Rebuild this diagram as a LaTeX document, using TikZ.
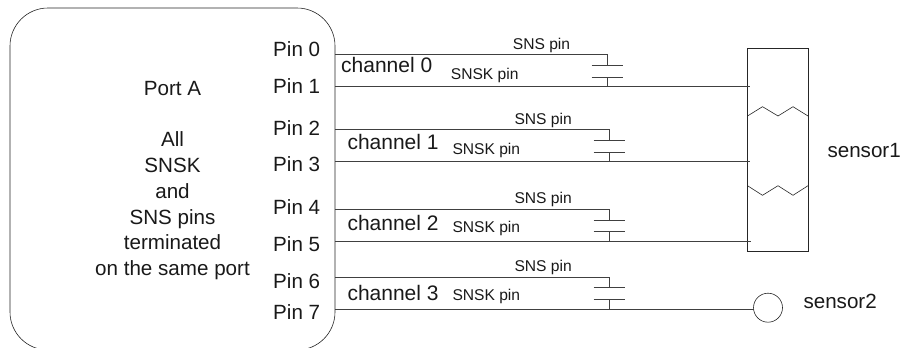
\documentclass[tikz,border=0pt]{standalone}
\usepackage{fontspec}
\setmainfont{Liberation Sans}
\tikzset{
  x=1pt,y=-1pt,
  wire/.style={draw=black!75,line width=1pt},
  fine/.style={draw=black!85,line width=0.6pt},
  txt/.style={inner sep=0pt,anchor=base west,text=black!90},
  big/.style={txt,font=\fontsize{20.6}{25.7}\selectfont},
  small/.style={txt,font=\fontsize{15.6}{18}\selectfont},
  chan/.style={txt,font=\fontsize{21}{25}\selectfont},
}
\begin{document}
\begin{tikzpicture}
\path[use as bounding box] (0,0) rectangle (903,348);
\begin{scope}
\clip (0,0) rectangle (903,348);
\node[fine,rounded corners=38pt,minimum width=325pt,minimum height=342pt,inner sep=0pt] (port) at (172.5,179) {};
\end{scope}
\node[inner sep=0pt,anchor=north,align=center,text=black!90,font=\fontsize{20.6}{25.7}\selectfont] (desc) at (172.5,81.2) {Port A\\ \\All\\SNSK\\and\\SNS pins\\terminated\\on the same port};
% pin labels
\node[big] (pin0) at (273,56.7) {Pin 0};
\node[big] (pin1) at (273,93.3) {Pin 1};
\node[big] (pin2) at (273,135) {Pin 2};
\node[big] (pin3) at (273,171.7) {Pin 3};
\node[big] (pin4) at (273,214) {Pin 4};
\node[big] (pin5) at (273,251.3) {Pin 5};
\node[big] (pin6) at (273,288) {Pin 6};
\node[big] (pin7) at (273,319) {Pin 7};
% channel labels
\node[chan] (ch0) at (341,72.3) {channel 0};
\node[chan] (ch1) at (347.3,149.3) {channel 1};
\node[chan] (ch2) at (347.3,230) {channel 2};
\node[chan] (ch3) at (347.3,300) {channel 3};
\foreach \n/\x/\a/\b/\c in {0/512.7/49/450.7/79.3,1/514.3/124/452.3/154,2/514.3/203.3/452.3/232.7,3/514.3/271/452.3/300.7}{
  \node[small] (sns\n) at (\x,\a) {SNS pin};
  \node[small] (snsk\n) at (\b,\c) {SNSK pin};
}
% sensors
\node[fine,minimum width=60.5pt,minimum height=203pt,inner sep=0pt] (s1) at (777.75,150) {};
\node[fine,circle,minimum size=29pt,inner sep=0pt] (s2) at (768,307.7) {};
\node[big] (s1t) at (827.3,157.7) {sensor1};
\node[big] (s2t) at (803.3,308.5) {sensor2};
\draw[fine] (747.5,116) -- (762.5,106.7) -- (778,116) -- (793,106.7) -- (808,116);
\draw[fine] (747.5,185.7) -- (762.5,195.3) -- (778,185.7) -- (793,195.3) -- (808,185.7);
% wires and capacitors
\foreach \n/\cx/\ys/\yk/\pa/\pb/\e in {0/607/54.5/86.5/65/77/750,1/609/129.5/161.5/140.7/152.3/750,2/609/209/241/220/231/751,3/609/277/309/287.5/299/753.5}{
  \coordinate (a\n) at (335,\ys);
  \coordinate (b\n) at (335,\yk);
  \coordinate (t\n) at (\cx,\ys);
  \coordinate (u\n) at (\cx,\pa);
  \coordinate (v\n) at (\cx,\pb);
  \coordinate (w\n) at (\cx,\yk);
  \coordinate (e\n) at (\e,\yk);
  \draw[wire] (a\n) -- (t\n) -- (u\n);
  \draw[wire] (b\n) -- (w\n) -- (v\n);
  \draw[wire] (w\n) -- (e\n);
  \draw[wire] ([xshift=-15.5pt]u\n) -- ([xshift=15.5pt]u\n);
  \draw[wire] ([xshift=-15.5pt]v\n) -- ([xshift=15.5pt]v\n);
}
\end{tikzpicture}
\end{document}
